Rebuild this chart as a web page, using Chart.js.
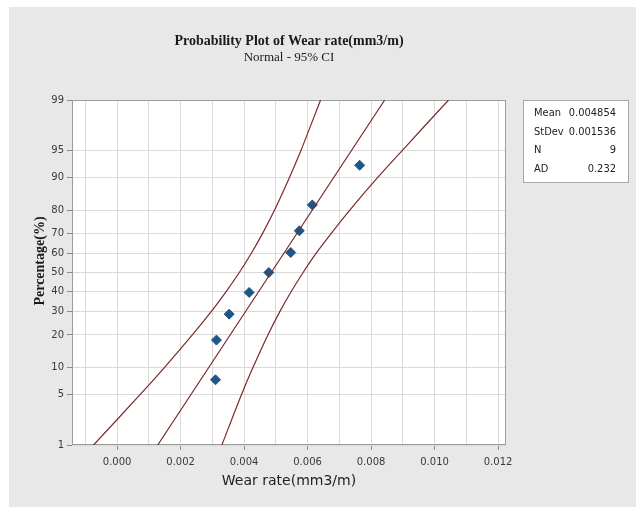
<!DOCTYPE html>
<html>
<head>
<meta charset="utf-8">
<script src="https://cdn.jsdelivr.net/npm/chart.js@4.4.1/dist/chart.umd.min.js"></script>
<style>
  html, body { margin: 0; padding: 0; background: #ffffff; }
  #wrap { width: 643px; height: 513px; }
</style>
</head>
<body>
<div id="wrap"><canvas id="c" width="643" height="513"></canvas></div>
<script>
// Probability levels (%) shown on the y axis
const probTicks = [1, 5, 10, 20, 30, 40, 50, 60, 70, 80, 90, 95, 99];

// x axis gridline positions and their labels
const xTicks = [-0.001, 0.000, 0.001, 0.002, 0.003, 0.004, 0.005, 0.006, 0.007, 0.008, 0.009, 0.010, 0.011, 0.012];
const xTickLabels = ['', '0.000', '', '0.002', '', '0.004', '', '0.006', '', '0.008', '', '0.010', '', '0.012'];

// Observed wear rates and their plotted percentages
const wearRate = [0.00310, 0.00313, 0.00353, 0.00416, 0.00478, 0.00547, 0.00574, 0.00615, 0.00764];
const percentRank = [7.4, 18.1, 28.7, 39.4, 50.0, 60.6, 71.3, 81.9, 92.6];

// Fitted normal line (ends at 1% and 99%)
const fitLevels = [1, 99];
const fitLine = [0.00128, 0.00843];

// 95% confidence band, sampled at each probability level
const bandLevels = [1, 5, 10, 20, 30, 40, 50, 60, 70, 80, 90, 95, 99];
const lowerBand = [-0.00074, 0.00073, 0.00149, 0.00237, 0.00297, 0.00344, 0.00385, 0.00422, 0.00458, 0.00496, 0.00543, 0.00579, 0.00641];
const upperBand = [0.00330, 0.00392, 0.00428, 0.00475, 0.00513, 0.00549, 0.00586, 0.00626, 0.00674, 0.00733, 0.00821, 0.00898, 0.01044];

// Summary statistics box
const statLabels = ['Mean', 'StDev', 'N', 'AD'];
const statValues = ['0.004854', '0.001536', '9', '0.232'];

// Inverse standard normal CDF (Acklam) used for the probability axis
function probit(p) {
  const a = [-3.969683028665376e+01, 2.209460984245205e+02, -2.759285104469687e+02, 1.383577518672690e+02, -3.066479806614716e+01, 2.506628277459239e+00];
  const b = [-5.447609879822406e+01, 1.615858368580409e+02, -1.556989798598866e+02, 6.680131188771972e+01, -1.328068155288572e+01];
  const c = [-7.784894002430293e-03, -3.223964580411365e-01, -2.400758277161838e+00, -2.549732539343734e+00, 4.374664141464968e+00, 2.938163982698783e+00];
  const d = [7.784695709041462e-03, 3.224671290700398e-01, 2.445134137142996e+00, 3.754408661907416e+00];
  const pl = 0.02425, ph = 1 - pl;
  let q, r;
  if (p < pl) {
    q = Math.sqrt(-2 * Math.log(p));
    return (((((c[0]*q+c[1])*q+c[2])*q+c[3])*q+c[4])*q+c[5]) / ((((d[0]*q+d[1])*q+d[2])*q+d[3])*q+1);
  }
  if (p > ph) {
    q = Math.sqrt(-2 * Math.log(1 - p));
    return -(((((c[0]*q+c[1])*q+c[2])*q+c[3])*q+c[4])*q+c[5]) / ((((d[0]*q+d[1])*q+d[2])*q+d[3])*q+1);
  }
  q = p - 0.5; r = q * q;
  return (((((a[0]*r+a[1])*r+a[2])*r+a[3])*r+a[4])*r+a[5])*q / (((((b[0]*r+b[1])*r+b[2])*r+b[3])*r+b[4])*r+1);
}
const z = pct => probit(pct / 100);

const lineColor = '#7a2b25';
const pointColor = '#1f5688';

// Panel background, plot frame, titles and statistics box
const decor = {
  id: 'decor',
  beforeDraw(chart) {
    const ctx = chart.ctx, a = chart.chartArea;
    ctx.save();
    ctx.fillStyle = '#ffffff';
    ctx.fillRect(0, 0, chart.width, chart.height);
    ctx.fillStyle = '#e8e8e8';
    ctx.fillRect(9, 7, 627, 500);
    ctx.fillStyle = '#ffffff';
    ctx.fillRect(a.left, a.top, a.right - a.left, a.bottom - a.top);
    ctx.restore();
  },
  beforeDatasetsDraw(chart) {
    const ctx = chart.ctx, a = chart.chartArea;
    ctx.save();
    ctx.strokeStyle = '#9c9c9c';
    ctx.lineWidth = 1;
    ctx.strokeRect(a.left + 0.5, a.top + 0.5, a.right - a.left - 1, a.bottom - a.top - 1);
    ctx.restore();
  },
  afterDraw(chart) {
    const ctx = chart.ctx, a = chart.chartArea;
    const cx = (a.left + a.right) / 2;
    ctx.save();
    ctx.fillStyle = '#1a1a1a';
    ctx.textAlign = 'center';
    ctx.textBaseline = 'middle';
    ctx.font = 'bold 14px "Liberation Serif"';
    ctx.fillText('Probability Plot of Wear rate(mm3/m)', cx, 41);
    ctx.font = '13px "Liberation Serif"';
    ctx.fillText('Normal - 95% CI', cx, 58);

    // y axis title
    ctx.save();
    ctx.translate(40, 261);
    ctx.rotate(-Math.PI / 2);
    ctx.font = 'bold 14px "Liberation Serif"';
    ctx.fillText('Percentage(%)', 0, 0);
    ctx.restore();

    // statistics box
    const bx = 523, by = 100, bw = 106, bh = 83;
    ctx.fillStyle = '#ffffff';
    ctx.fillRect(bx, by, bw, bh);
    ctx.strokeStyle = '#a8a8a8';
    ctx.strokeRect(bx + 0.5, by + 0.5, bw - 1, bh - 1);
    ctx.fillStyle = '#222222';
    ctx.font = '11px "DejaVu Sans Condensed", "DejaVu Sans"';
    for (let i = 0; i < statLabels.length; i++) {
      const ty = 113 + i * 18.7;
      ctx.textAlign = 'left';
      ctx.fillText(statLabels[i], 534, ty);
      ctx.textAlign = 'right';
      ctx.fillText(statValues[i], 616, ty);
    }
    ctx.restore();
  }
};

const lineSet = (levels, values) => ({
  data: levels.map((p, i) => ({ x: values[i], y: z(p) })),
  showLine: true,
  borderColor: lineColor,
  borderWidth: 1.2,
  pointRadius: 0,
  tension: 0.3,
  fill: false
});

new Chart(document.getElementById('c'), {
  type: 'scatter',
  data: {
    datasets: [
      lineSet(bandLevels, lowerBand),
      lineSet(bandLevels, upperBand),
      lineSet(fitLevels, fitLine),
      {
        data: wearRate.map((v, i) => ({ x: v, y: z(percentRank[i]) })),
        pointStyle: 'rectRot',
        pointRadius: 5,
        backgroundColor: pointColor,
        borderColor: pointColor,
        borderWidth: 1
      }
    ]
  },
  options: {
    responsive: false,
    animation: false,
    devicePixelRatio: 1,
    layout: { padding: { left: 0, top: 100, right: 137, bottom: 0 } },
    plugins: { legend: { display: false }, tooltip: { enabled: false } },
    scales: {
      x: {
        type: 'linear',
        min: -0.00142,
        max: 0.01225,
        afterFit(s) { s.height = 68; },
        afterBuildTicks(s) { s.ticks = xTicks.map(v => ({ value: v })); },
        ticks: {
          callback: (v, i) => xTickLabels[i],
          font: { family: 'DejaVu Sans', size: 10 },
          color: '#3a3a3a',
          padding: 6,
          maxRotation: 0,
          autoSkip: false
        },
        grid: {
          color: '#dadada',
          tickLength: 5,
          tickColor: ctx => (xTickLabels[ctx.index] ? '#8a8a8a' : 'rgba(0,0,0,0)')
        },
        border: { display: false },
        title: {
          display: true,
          text: 'Wear rate(mm3/m)',
          font: { family: 'DejaVu Sans', size: 14 },
          color: '#222222',
          padding: { top: 0, bottom: 23 }
        }
      },
      y: {
        type: 'linear',
        min: z(1),
        max: z(99),
        afterFit(s) { s.width = 72; },
        afterBuildTicks(s) { s.ticks = probTicks.map(p => ({ value: z(p) })); },
        ticks: {
          callback: (v, i) => String(probTicks[i]),
          font: { family: 'DejaVu Sans', size: 10 },
          color: '#3a3a3a',
          padding: 3,
          autoSkip: false
        },
        grid: { color: '#dadada', tickLength: 5, tickColor: '#8a8a8a' },
        border: { display: false }
      }
    }
  },
  plugins: [decor]
});
</script>
</body>
</html>
